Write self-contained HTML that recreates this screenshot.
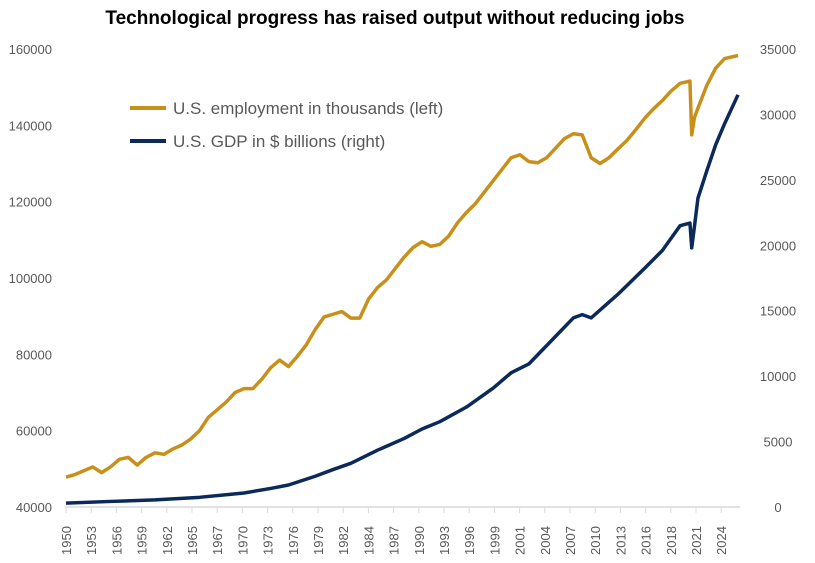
<!DOCTYPE html>
<html><head><meta charset="utf-8"><style>
body{margin:0;background:#fff;}
svg{display:block;font-family:"Liberation Sans",sans-serif;}
</style></head><body>
<svg id="chart" width="815" height="563">
<text x="395" y="24" text-anchor="middle" font-size="19" font-weight="bold" fill="#000">Technological progress has raised output without reducing jobs</text>
<g id="axes"></g>
<g id="series"></g>
<g>
<line x1="130" y1="108" x2="166" y2="108" stroke="#C8901A" stroke-width="4"/>
<text x="173" y="114" font-size="17" fill="#595959">U.S. employment in thousands (left)</text>
<line x1="130" y1="141" x2="166" y2="141" stroke="#0B2A5B" stroke-width="4"/>
<text x="173" y="147" font-size="17" fill="#595959">U.S. GDP in $ billions (right)</text>
</g>
</svg>
<script>
const empYears=[1950,1951,1952,1953,1954,1955,1956,1957,1958,1959,1960,1961,1962,1963,1964,1965,1966,1967,1968,1969,1970,1971,1972,1973,1974,1975,1976,1977,1978,1979,1980,1981,1982,1983,1984,1985,1986,1987,1988,1989,1990,1991,1992,1993,1994,1995,1996,1997,1998,1999,2000,2001,2002,2003,2004,2005,2006,2007,2008,2009,2010,2011,2012,2013,2014,2015,2016,2017,2018,2019,2020.1,2020.3,2020.6,2021,2022,2023,2024,2025.5];
const empValues=[47800,48500,49500,50500,49000,50500,52500,53000,51000,53000,54200,53800,55200,56200,57800,60000,63500,65500,67500,70000,71000,71000,73500,76500,78500,76800,79500,82500,86500,89800,90500,91200,89500,89500,94500,97500,99500,102500,105500,108000,109500,108300,108800,111000,114500,117200,119500,122500,125500,128500,131500,132300,130500,130200,131500,134000,136500,137800,137500,131500,130000,131500,133800,136000,138800,141800,144300,146500,149000,151000,151600,137500,142000,144500,150500,155000,157500,158300];
const gdpYears=[1950,1955,1960,1965,1970,1973,1975,1978,1980,1982,1985,1988,1990,1992,1995,1998,2000,2002,2005,2007,2008,2009,2010,2012,2015,2017,2019,2020.1,2020.3,2020.6,2021,2022,2023,2024,2025.5];
const gdpValues=[300,425,540,740,1070,1420,1680,2350,2860,3340,4340,5240,5960,6520,7640,9090,10250,10930,13040,14450,14700,14450,15050,16250,18240,19600,21500,21700,19800,21400,23600,25700,27700,29300,31500];
const tickLabels=["1950","1953","1956","1959","1962","1965","1967","1970","1973","1976","1979","1982","1984","1987","1990","1993","1996","1999","2001","2004","2007","2010","2013","2016","2018","2021","2024"];
const leftTicks=[40000,60000,80000,100000,120000,140000,160000];
const rightTicks=[0,5000,10000,15000,20000,25000,30000,35000];
const NS="http://www.w3.org/2000/svg";
const x=y=>66+(y-1950)*(672/75.5);
const yl=v=>507-(v-40000)/120000*458;
const yr=v=>507-v/35000*458;
function mk(t,a,p){const e=document.createElementNS(NS,t);for(const k in a)e.setAttribute(k,a[k]);p.appendChild(e);return e;}
const axes=document.getElementById('axes'),series=document.getElementById('series');
const base=mk('line',{x1:66,y1:507,x2:740,y2:507,stroke:'#d9d9d9','stroke-width':1.5},axes);


tickLabels.forEach((l,i)=>{const px=66+i*25.2;
 const tk=mk('line',{x1:px,y1:507,x2:px,y2:513,stroke:'#d9d9d9'},axes);
 
 
 const t=mk('text',{x:0,y:0,transform:`translate(${px+5},555) rotate(-90)`,'font-size':13,fill:'#595959'},axes);
 t.textContent=l;
 
 
});
leftTicks.forEach(v=>{const t=mk('text',{x:52,y:yl(v)+5,'text-anchor':'end','font-size':13,fill:'#595959'},axes);t.textContent=v;
 
 });
rightTicks.forEach(v=>{const t=mk('text',{x:778,y:yr(v)+5,'text-anchor':'middle','font-size':13,fill:'#595959'},axes);t.textContent=v;
 
 });
const emp=mk('polyline',{points:empYears.map((y,i)=>x(y)+','+yl(empValues[i])).join(' '),fill:'none',stroke:'#C8901A','stroke-width':3.5,'stroke-linejoin':'round'},series);


const gdp=mk('polyline',{points:gdpYears.map((y,i)=>x(y)+','+yr(gdpValues[i])).join(' '),fill:'none',stroke:'#0B2A5B','stroke-width':3.5,'stroke-linejoin':'round'},series);


</script>
</body></html>
